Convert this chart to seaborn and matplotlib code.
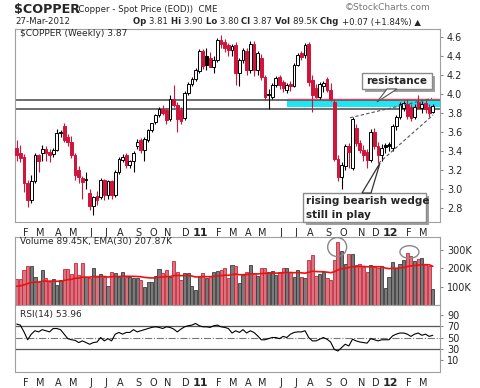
import numpy as np
import pandas as pd
import matplotlib
matplotlib.use("Agg")
import matplotlib.pyplot as plt
import seaborn as sns
from matplotlib.patches import Ellipse, Polygon, Rectangle

# ===============================
# Weekly $COPPER data, first week 18-Jan-2010
# ===============================
first_week = "2010-01-18"

opens = [3.43, 3.38, 3.34, 3.06, 2.88, 3.08, 3.36, 3.38, 3.42, 3.39,
         3.37, 3.41, 3.59, 3.66, 3.55, 3.50, 3.36, 3.20, 3.12, 3.10,
         2.96, 2.82, 2.93, 2.92, 3.09, 2.94, 3.08, 2.94, 3.18, 3.31,
         3.36, 3.25, 3.29, 3.45, 3.52, 3.41, 3.52, 3.62, 3.71, 3.78,
         3.84, 3.83, 3.74, 3.95, 3.88, 3.83, 3.75, 4.01, 4.11, 4.16,
         4.24, 4.45, 4.40, 4.38, 4.28, 4.36, 4.57, 4.55, 4.52, 4.46,
         4.52, 4.22, 4.36, 4.45, 4.25, 4.53, 4.25, 4.38, 4.18, 3.99,
         3.97, 4.09, 4.18, 4.13, 4.04, 4.11, 4.08, 4.31, 4.43, 4.41,
         4.53, 4.15, 4.06, 3.97, 4.08, 4.16, 4.04, 3.92, 3.32, 3.13,
         3.24, 3.45, 3.22, 3.64, 3.48, 3.41, 3.39, 3.31, 3.60, 3.45,
         3.36, 3.46, 3.47, 3.43, 3.66, 3.76, 3.85, 3.90, 3.86, 3.76,
         3.92, 3.85, 3.91, 3.86, 3.81]
highs = [3.52, 3.46, 3.37, 3.10, 3.15, 3.38, 3.37, 3.46, 3.45, 3.42,
         3.43, 3.63, 3.62, 3.70, 3.58, 3.56, 3.38, 3.24, 3.14, 3.18,
         3.00, 2.93, 2.98, 3.12, 3.11, 3.10, 3.10, 3.20, 3.34, 3.37,
         3.38, 3.31, 3.40, 3.53, 3.54, 3.55, 3.63, 3.70, 3.79, 3.86,
         3.88, 3.85, 3.99, 4.09, 3.92, 3.86, 4.03, 4.13, 4.18, 4.27,
         4.47, 4.47, 4.48, 4.44, 4.40, 4.59, 4.62, 4.58, 4.54, 4.53,
         4.55, 4.38, 4.48, 4.48, 4.56, 4.56, 4.45, 4.42, 4.20, 4.05,
         4.12, 4.19, 4.20, 4.15, 4.12, 4.14, 4.33, 4.43, 4.45, 4.54,
         4.55, 4.20, 4.10, 4.13, 4.14, 4.18, 4.12, 3.95, 3.36, 3.28,
         3.47, 3.48, 3.76, 3.68, 3.52, 3.46, 3.42, 3.63, 3.64, 3.50,
         3.47, 3.48, 3.50, 3.68, 3.78, 3.92, 3.93, 3.95, 3.90, 3.90,
         3.99, 3.93, 3.94, 3.90, 3.90]
lows = [3.30, 3.28, 2.97, 2.81, 2.85, 3.06, 3.18, 3.30, 3.30, 3.28,
        3.34, 3.40, 3.55, 3.50, 3.45, 3.33, 3.10, 3.06, 2.90, 3.00,
        2.78, 2.73, 2.83, 2.90, 2.88, 2.90, 2.90, 2.92, 3.16, 3.28,
        3.22, 3.22, 3.18, 3.42, 3.38, 3.30, 3.50, 3.60, 3.68, 3.76,
        3.78, 3.68, 3.72, 3.86, 3.60, 3.68, 3.73, 3.99, 4.08, 4.14,
        4.22, 4.26, 4.25, 4.28, 4.22, 4.34, 4.48, 4.44, 4.40, 4.40,
        4.09, 4.08, 4.33, 4.20, 4.22, 4.19, 4.20, 4.15, 3.94, 3.84,
        3.95, 4.07, 4.05, 4.02, 4.01, 4.03, 4.07, 4.29, 4.36, 4.38,
        4.08, 3.81, 3.96, 3.95, 4.02, 4.02, 3.93, 3.30, 3.08, 3.00,
        3.20, 3.22, 3.20, 3.45, 3.38, 3.30, 3.22, 3.28, 3.42, 3.27,
        3.30, 3.38, 3.40, 3.40, 3.62, 3.74, 3.82, 3.74, 3.72, 3.74,
        3.84, 3.80, 3.80, 3.76, 3.80]
closes = [3.36, 3.33, 3.06, 2.88, 3.08, 3.36, 3.29, 3.42, 3.38, 3.36,
          3.41, 3.59, 3.60, 3.52, 3.50, 3.36, 3.15, 3.13, 3.07, 3.10,
          2.82, 2.92, 2.88, 3.09, 2.94, 3.08, 2.94, 3.18, 3.32, 3.34,
          3.25, 3.29, 3.38, 3.50, 3.41, 3.53, 3.62, 3.69, 3.78, 3.84,
          3.80, 3.73, 3.95, 3.88, 3.74, 3.72, 4.01, 4.11, 4.16, 4.25,
          4.45, 4.29, 4.30, 4.28, 4.36, 4.57, 4.53, 4.48, 4.46, 4.50,
          4.22, 4.36, 4.46, 4.25, 4.53, 4.25, 4.43, 4.18, 3.97, 3.99,
          4.09, 4.17, 4.09, 4.06, 4.09, 4.08, 4.31, 4.41, 4.39, 4.52,
          4.13, 3.99, 3.97, 4.11, 4.12, 4.04, 3.95, 3.32, 3.13, 3.25,
          3.45, 3.39, 3.74, 3.48, 3.41, 3.36, 3.31, 3.60, 3.45, 3.36,
          3.43, 3.44, 3.45, 3.66, 3.76, 3.90, 3.91, 3.77, 3.75, 3.86,
          3.85, 3.90, 3.84, 3.80, 3.87]

volume_k = [140, 142, 190, 212, 212, 155, 128, 190, 146, 128,
            142, 108, 137, 195, 195, 168, 228, 164, 228, 155,
            150, 200, 155, 168, 155, 106, 178, 177, 155, 178,
            155, 155, 150, 146, 137, 100, 124, 124, 160, 197,
            173, 191, 155, 240, 178, 135, 173, 177, 105, 80,
            160, 175, 150, 160, 178, 186, 190, 204, 149, 219,
            213, 118, 164, 182, 219, 173, 160, 204, 200, 182,
            186, 164, 182, 200, 200, 178, 155, 191, 155, 146,
            246, 273, 158, 170, 180, 146, 137, 246, 346, 295,
            222, 277, 277, 219, 222, 209, 182, 219, 209, 200,
            215, 91, 155, 237, 200, 222, 246, 282, 268, 240,
            251, 255, 222, 215, 89.45]
ema_start_k = 100

rsi_values = [74, 72, 60, 46, 56, 62, 60, 64, 62, 60,
              66, 66, 64, 56, 48, 46, 45, 41, 44, 41,
              38, 41, 42, 50, 44, 48, 44, 56, 59, 56,
              59, 59, 64, 60, 62, 64, 66, 68, 69, 68,
              66, 69, 68, 65, 60, 65, 69, 71, 72, 75,
              71, 69, 69, 68, 71, 72, 69, 68, 66, 58,
              62, 59, 64, 58, 62, 59, 53, 46, 46, 48,
              50, 50, 48, 52, 50, 56, 59, 60, 60, 62,
              50, 44, 44, 47, 50, 47, 42, 29, 26, 32,
              38, 35, 47, 44, 42, 41, 40, 48, 46, 44,
              46, 46, 46, 53, 56, 58, 58, 56, 52, 56,
              58, 54, 56, 52, 53.96]

month_letters = ["J", "F", "M", "A", "M", "J", "J", "A", "S", "O", "N", "D"]
price_ticks = [2.8, 3.0, 3.2, 3.4, 3.6, 3.8, 4.0, 4.2, 4.4, 4.6]
volume_ticks = [100, 200, 300]
volume_labels = ["100K", "200K", "300K"]
rsi_ticks = [10, 30, 50, 70, 90]

resistance_lines = [3.84, 3.94]
band_low, band_high = 3.866, 3.944
band_start = 74
wedge_upper_x, wedge_upper_y = [91.3, 113.8], [3.75, 3.955]
wedge_lower_x, wedge_lower_y = [99.1, 114.1], [3.27, 3.78]

# ===============================
# Figure / panels (pixel layout of a 480x388 image)
# ===============================
sns.set_style("white")
plt.rcParams["font.family"] = ["DejaVu Sans"]

W, H = 480, 388
fig = plt.figure(figsize=(W / 100, H / 100), dpi=100)


def box(l, t, r, b):
    return [l / W, 1 - b / H, (r - l) / W, (b - t) / H]


ax = fig.add_axes(box(15, 29, 440, 222))
axv = fig.add_axes(box(15, 237, 440, 305))
axr = fig.add_axes(box(15, 305, 440, 372))

n = len(closes)
x = np.arange(n)
o, h, l, c = map(np.array, (opens, highs, lows, closes))
prev = np.r_[o[0], c[:-1]]
down = c < prev
filled = c < o

RED = "#d0143c"
col = np.where(down, RED, "black")
face = np.where(filled, col, "white")
xmin, xmax = (15 - 16.7) / 3.65, (440 - 16.7) / 3.65

# ===============================
# Price panel
# ===============================
ax.fill_between([band_start, xmax], band_low, band_high, color="#1ee6f2", zorder=1, lw=0)
for lev in resistance_lines:
    ax.axhline(lev, color="#555555", lw=1.2, zorder=2)
ax.hlines(band_high, band_start, xmax, color="#e0405a", lw=1.0, zorder=2)

ax.vlines(x, l, h, colors=col, lw=0.8, zorder=3)
ax.bar(x, np.maximum(np.abs(c - o), 0.006), bottom=np.minimum(o, c), width=0.74,
       color=face, edgecolor=col, linewidth=0.7, zorder=4)

ax.plot(wedge_upper_x, wedge_upper_y, color="#555555", lw=0.8, ls=(0, (3, 2)), zorder=5)
ax.plot(wedge_lower_x, wedge_lower_y, color="#555555", lw=0.8, ls=(0, (3, 2)), zorder=5)

ax.set_xlim(xmin, xmax)
ax.set_ylim(2.653, 4.684)
ax.yaxis.tick_right()
ax.set_yticks(price_ticks)
ax.set_yticklabels([f"{t:.1f}" for t in price_ticks])

# ===============================
# Volume panel
# ===============================
vface = np.where(down, "#d9737d", "#7a7a7a")
vedge = np.where(down, "#c8283c", "#3c3c3c")
axv.bar(x, volume_k, width=0.85, color=vface, edgecolor=vedge, linewidth=0.6, zorder=2)
ema = pd.Series([ema_start_k] + volume_k).ewm(span=30, adjust=False).mean().values[1:]
sns.lineplot(x=x, y=ema, ax=axv, color="#ee1010", lw=1.2, zorder=3)
axv.add_patch(Ellipse((87.8, 317), 5.2, 104, fill=False, ec="#888888", lw=1, zorder=4))
axv.add_patch(Ellipse((107.6, 290), 5.2, 69, fill=False, ec="#888888", lw=1, zorder=4))
axv.set_xlim(xmin, xmax)
axv.set_ylim(0, 372)
axv.yaxis.tick_right()
axv.set_yticks(volume_ticks)
axv.set_yticklabels(volume_labels)

# ===============================
# RSI panel
# ===============================
axr.axhline(70, color="#555555", lw=0.9)
axr.axhline(30, color="#555555", lw=0.9)
axr.axhline(50, color="#777777", lw=0.8, ls="-.")
sns.lineplot(x=x, y=rsi_values, ax=axr, color="black", lw=0.8)
axr.set_xlim(xmin, xmax)
axr.set_ylim(-11.3, 107.8)
axr.yaxis.tick_right()
axr.set_yticks(rsi_ticks)

# ===============================
# Month axis
# ===============================
dates = pd.date_range(first_week, periods=n, freq="7D")
pos, labs = [], []
for i in range(1, n):
    if dates[i].month != dates[i - 1].month:
        pos.append(i + 0.4)
        m = dates[i].month
        labs.append(f"{dates[i].year % 100:02d}" if m == 1 else month_letters[m - 1])

for a in (ax, axv, axr):
    for s in a.spines.values():
        s.set_color("#a0a0a0")
        s.set_linewidth(0.8)
    a.set_xlabel("")
    a.set_ylabel("")
    a.tick_params(axis="y", labelsize=7, length=2, pad=3, color="#888888")
    a.set_xticks(pos)
    a.set_xticks(x, minor=True)
    a.tick_params(axis="x", which="major", length=2, color="#888888")
    a.tick_params(axis="x", which="minor", length=1, color="#aaaaaa")

axv.set_xticklabels([])
for a in (ax, axr):
    a.set_xticklabels(labs, fontsize=7)
    a.tick_params(axis="x", pad=2)
    for t in a.get_xticklabels():
        if t.get_text().isdigit():
            t.set_fontweight("bold")
            t.set_fontsize(8)

# ===============================
# Texts and annotations
# ===============================
renderer = fig.canvas.get_renderer()


def runs(px, py, parts, size):
    for s, bold in parts:
        t = fig.text(px / W, 1 - py / H, s, fontsize=size, va="center",
                     fontweight="bold" if bold else "normal")
        px += t.get_window_extent(renderer).width * W / fig.bbox.width


runs(14, 10, [("$COPPER", True)], 9.2)
fig.text(75 / W, 1 - 10 / H, "(Copper - Spot Price (EOD))  CME", fontsize=6.2, va="center")
fig.text(430 / W, 1 - 8 / H, "\u00a9StockCharts.com", fontsize=6.5, va="center",
         ha="right", color="#777777")
fig.text(15 / W, 1 - 22 / H, "27-Mar-2012", fontsize=6.2, va="center")
runs(133, 22, [("Op ", True), ("3.81 ", False), ("Hi ", True), ("3.90 ", False),
               ("Lo ", True), ("3.80 ", False), ("Cl ", True), ("3.87 ", False),
               ("Vol ", True), ("89.5K ", False), ("Chg ", True),
               ("+0.07 (+1.84%) \u25b2", False)], 6.1)
fig.text(20 / W, 1 - 34 / H, "$COPPER (Weekly) 3.87", fontsize=6.5, va="center")
fig.text(20 / W, 1 - 241.5 / H, "Volume 89.45K, EMA(30) 207.87K", fontsize=6.5, va="center")
fig.text(20 / W, 1 - 314 / H, "RSI(14) 53.96", fontsize=6.5, va="center")


def dx(px):
    return (px - 16.7) / 3.65


def dy(py):
    return 4.6 - (py - 37) / 95


def callout_box(l, t, r, b):
    ax.add_patch(Rectangle((dx(l + 3), dy(b + 3)), dx(r) - dx(l), dy(t) - dy(b),
                           fc="#a0a0a0", ec="none", zorder=6, clip_on=False))
    ax.add_patch(Rectangle((dx(l), dy(b)), dx(r) - dx(l), dy(t) - dy(b),
                           fc="white", ec="#8a8a8a", lw=1, zorder=7, clip_on=False))


callout_box(362, 73, 432, 89)
ax.text(dx(366), dy(81), "resistance", fontsize=7.5, fontweight="bold", va="center", zorder=8)
ax.add_patch(Polygon([(dx(387), dy(89)), (dx(397), dy(89)), (dx(377), dy(102))],
                     fc="white", ec="#555555", lw=0.8, zorder=7))

callout_box(303, 193, 426, 222)
ax.text(dx(306), dy(201), "rising bearish wedge", fontsize=7.5, fontweight="bold",
        va="center", zorder=8)
ax.text(dx(306), dy(215), "still in play", fontsize=7.5, fontweight="bold",
        va="center", zorder=8)
ax.add_patch(Polygon([(dx(362), dy(193)), (dx(371), dy(193)), (dx(380), dy(163))],
                     fc="white", ec="#333333", lw=0.9, zorder=7))

fig.savefig("out.png", dpi=100)
